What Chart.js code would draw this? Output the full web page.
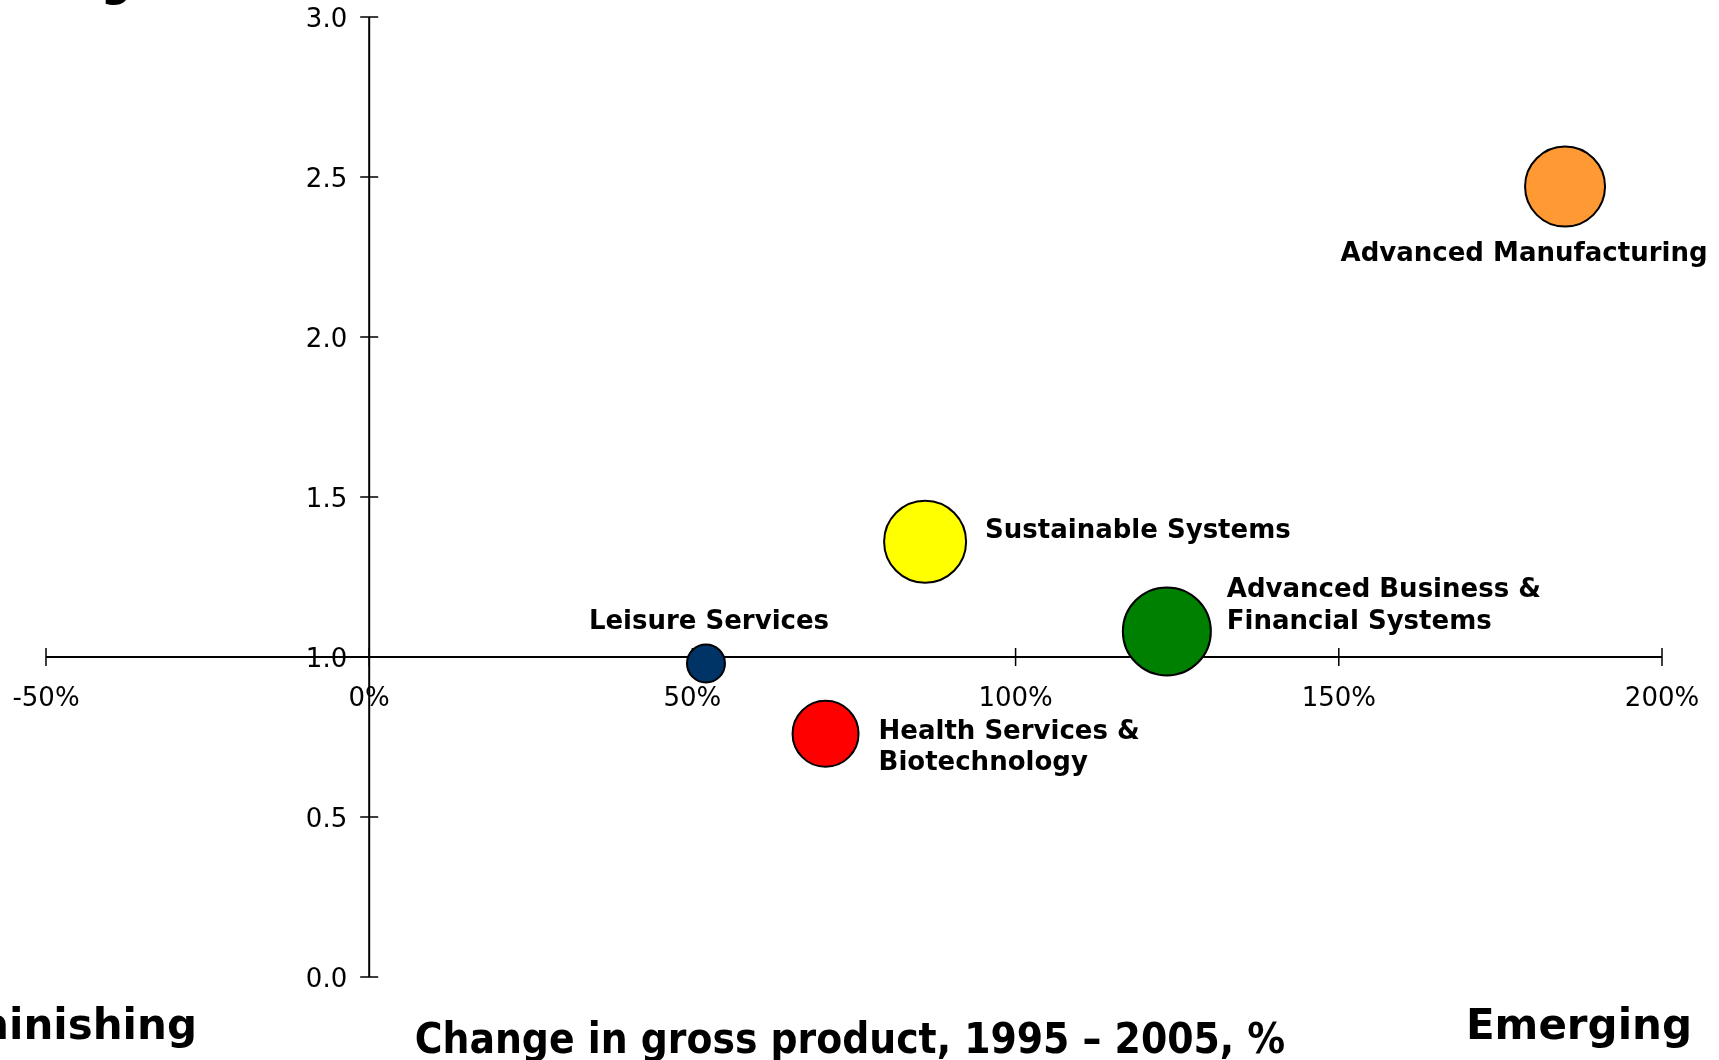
<!DOCTYPE html>
<html>
<head>
<meta charset="utf-8">
<script src="https://cdn.jsdelivr.net/npm/chart.js@4/dist/chart.umd.min.js"></script>
<style>
  html, body { margin: 0; padding: 0; background: #fff; overflow: hidden; }
  #wrap { width: 1719px; height: 1060px; position: relative; }
</style>
</head>
<body>
<div id="wrap"><canvas id="c"></canvas></div>
<script>
// ---- data ----
const categories = [
  "Advanced Manufacturing",
  "Sustainable Systems",
  "Advanced Business & Financial Systems",
  "Leisure Services",
  "Health Services & Biotechnology"
];
const labelLines = [
  ["Advanced Manufacturing"],
  ["Sustainable Systems"],
  ["Advanced Business &", "Financial Systems"],
  ["Leisure Services"],
  ["Health Services &", "Biotechnology"]
];
const grossProductChange = [185, 86, 123.4, 52.1, 70.6];   // x, %
const yValues = [2.47, 1.36, 1.08, 0.98, 0.76];             // y
const bubbleValue = [40, 41, 44, 19, 33];                    // bubble size
const xTickValues = [-50, 0, 50, 100, 150, 200];
const yTickValues = [0, 0.5, 1.0, 1.5, 2.0, 2.5, 3.0];
const xTitle = "Change in gross product, 1995 \u2013 2005, %";
const quadrantLabels = ["Maturing", "Diminishing", "Emerging"];

// ---- styles ----
const bubbleColors = ["#FF9933", "#FFFF00", "#008000", "#003366", "#FF0000"];
const labelPlacement = [
  { align: "center", dx: -41, dy: 74, step: 32 },
  { align: "left", dx: 60, dy: -4, step: 32 },
  { align: "left", dx: 60, dy: -34, step: 32 },
  { align: "center", dx: 3, dy: -34, step: 32 },
  { align: "left", dx: 53, dy: 5, step: 31 }
];

const points = categories.map((c, i) => ({ x: grossProductChange[i], y: yValues[i], r: bubbleValue[i] }));

const axesPlugin = {
  id: "crossAxes",
  beforeDatasetsDraw(chart) {
    const { ctx, scales: { x, y } } = chart;
    const axisY = y.getPixelForValue(1);
    const axisX = x.getPixelForValue(0);
    ctx.save();
    ctx.strokeStyle = "#000";
    ctx.lineWidth = 2;
    ctx.beginPath();
    ctx.moveTo(x.left, axisY); ctx.lineTo(x.right, axisY);
    ctx.moveTo(axisX, y.top); ctx.lineTo(axisX, y.bottom);
    ctx.stroke();
    ctx.lineWidth = 1.5;
    ctx.beginPath();
    x.ticks.forEach(t => {
      const px = x.getPixelForValue(t.value);
      ctx.moveTo(px, axisY - 9); ctx.lineTo(px, axisY + 9);
    });
    y.ticks.forEach(t => {
      const py = y.getPixelForValue(t.value);
      ctx.moveTo(axisX - 9, py); ctx.lineTo(axisX + 9, py);
    });
    ctx.stroke();
    ctx.fillStyle = "#000";
    ctx.font = "26px 'DejaVu Sans'";
    ctx.textBaseline = "alphabetic";
    ctx.textAlign = "center";
    x.ticks.forEach(t => {
      ctx.fillText(t.label, x.getPixelForValue(t.value), axisY + 49);
    });
    ctx.textAlign = "right";
    y.ticks.forEach(t => {
      ctx.fillText(t.label, axisX - 22, y.getPixelForValue(t.value) + 10);
    });
    ctx.restore();
  },
  afterDraw(chart) {
    const { ctx } = chart;
    const meta = chart.getDatasetMeta(0);
    ctx.save();
    ctx.fillStyle = "#000";
    ctx.textBaseline = "alphabetic";
    ctx.font = "bold 26px 'DejaVu Sans'";
    meta.data.forEach((el, i) => {
      const p = labelPlacement[i];
      ctx.textAlign = p.align;
      labelLines[i].forEach((line, k) => {
        ctx.fillText(line, el.x + p.dx, el.y + p.dy + k * p.step);
      });
    });
    // quadrant labels
    ctx.font = "bold 42px 'DejaVu Sans'";
    ctx.textAlign = "left";
    ctx.fillText(quadrantLabels[0], -84, -4);
    ctx.fillText(quadrantLabels[1], -84, 1039);
    ctx.textAlign = "right";
    ctx.fillText(quadrantLabels[2], 1692, 1039);
    // x-axis title (condensed)
    ctx.font = "bold 42px 'DejaVu Sans'";
    ctx.textAlign = "center";
    ctx.translate(850, 1053);
    ctx.scale(0.9, 1);
    ctx.fillText(xTitle, 0, 0);
    ctx.restore();
  }
};

new Chart(document.getElementById("c"), {
  type: "bubble",
  data: {
    datasets: [{
      label: "Clusters",
      data: points,
      backgroundColor: bubbleColors,
      borderColor: "#000",
      borderWidth: 2,
      clip: false
    }]
  },
  options: {
    responsive: true,
    maintainAspectRatio: false,
    devicePixelRatio: 1,
    animation: false,
    layout: { autoPadding: false, padding: { left: 46, right: 57, top: 17, bottom: 83 } },
    plugins: { legend: { display: false }, tooltip: { enabled: false }, title: { display: false } },
    scales: {
      x: {
        type: "linear", min: -50, max: 200, display: false,
        afterBuildTicks: s => { s.ticks = xTickValues.map(v => ({ value: v })); },
        ticks: { callback: v => v + "%" }
      },
      y: {
        type: "linear", min: 0, max: 3, display: false,
        afterBuildTicks: s => { s.ticks = yTickValues.map(v => ({ value: v })); },
        ticks: { callback: v => Number(v).toFixed(1) }
      }
    }
  },
  plugins: [axesPlugin]
});
</script>
</body>
</html>
